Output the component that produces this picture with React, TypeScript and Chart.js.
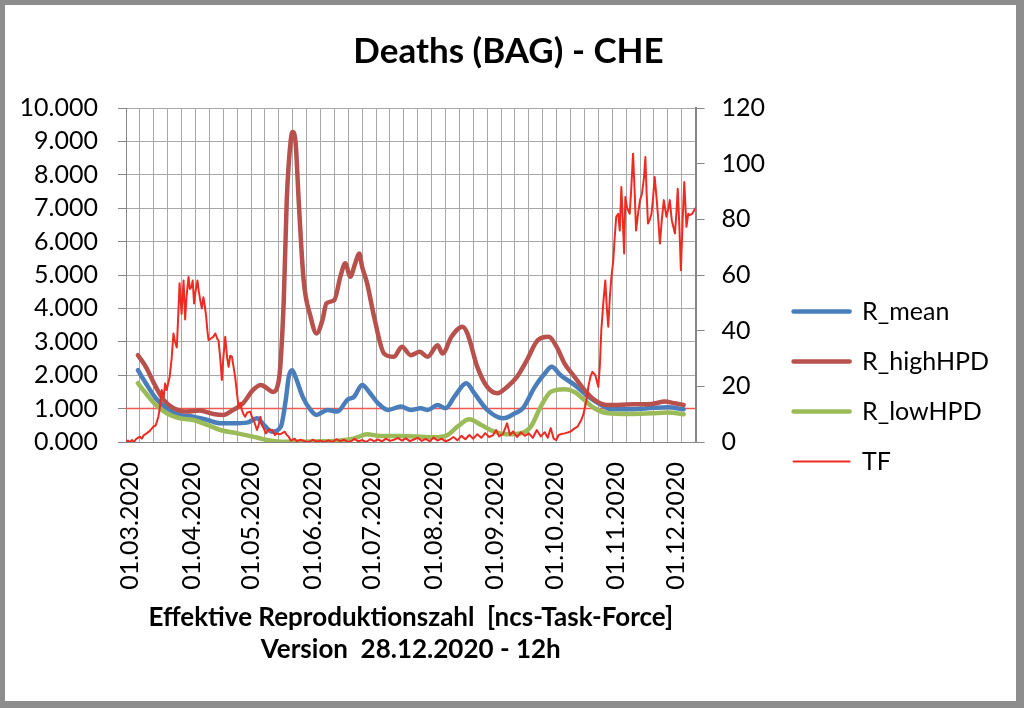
import React, { useEffect, useRef } from 'react';
import { Chart, registerables } from 'chart.js';

Chart.register(...registerables);

// ---------- text ----------
const TITLE = 'Deaths (BAG) - CHE';
const X_TITLE = ['Effektive Reproduktionszahl  [ncs-Task-Force]', 'Version  28.12.2020 - 12h'];

// ---------- x axis (days since 01.03.2020) ----------
const X_MIN = -2;
const X_MAX = 285;
const GRID_STEP_DAYS = 7;
const MONTH_DAYS = [0, 31, 61, 92, 122, 153, 184, 214, 245, 275];
const MONTH_LABELS = [
  '01.03.2020', '01.04.2020', '01.05.2020', '01.06.2020', '01.07.2020',
  '01.08.2020', '01.09.2020', '01.10.2020', '01.11.2020', '01.12.2020',
];

// ---------- series ----------
const SERIES_NAMES = ['R_mean', 'R_highHPD', 'R_lowHPD', 'TF'];

const MEAN_DAYS = [4, 8, 13, 18.5, 25, 32, 39, 45.5, 52, 59, 64, 67.5, 71.5, 76, 78.5, 80, 81.7, 83.4, 87, 91, 94, 99.5, 104.5, 109.5, 113, 117, 120.5, 125, 130, 136.5, 141.5, 146.5, 150, 155, 159, 163.5, 169.5, 173.5, 180, 188, 194, 198, 204, 209, 212.5, 217, 224, 231, 237.5, 242.5, 251, 261, 271, 279];
const R_MEAN = [2.15, 1.76, 1.31, 1.01, 0.81, 0.76, 0.66, 0.56, 0.56, 0.58, 0.71, 0.51, 0.31, 0.46, 1.26, 1.95, 2.15, 1.95, 1.36, 0.96, 0.81, 0.96, 0.91, 1.26, 1.36, 1.71, 1.5, 1.16, 0.96, 1.06, 0.96, 1.01, 0.96, 1.11, 1.01, 1.36, 1.76, 1.46, 0.96, 0.71, 0.86, 1.01, 1.65, 2.05, 2.25, 2.0, 1.71, 1.36, 1.11, 0.98, 0.98, 1.01, 1.04, 0.98];

const HIGH_DAYS = [4, 8, 13, 17, 22, 29, 35, 42, 47, 52, 57, 62, 66, 69, 72, 75, 77.5, 79, 81, 82, 83.5, 85, 87.5, 91, 94, 97, 99, 103, 106, 108.5, 111, 113.5, 115.5, 117, 119.5, 123, 128, 133, 137, 141.5, 146, 150, 155, 157.5, 162, 167.5, 170, 175, 180, 185, 190, 195, 200, 205.5, 211, 215, 219, 224, 229, 234, 240, 246, 254, 263, 269.5, 274.5, 279];
const R_HIGH = [2.6, 2.25, 1.65, 1.26, 1.01, 0.91, 0.94, 0.84, 0.81, 0.96, 1.16, 1.56, 1.71, 1.61, 1.5, 1.85, 4.25, 7.24, 9.03, 9.28, 8.93, 7.24, 4.85, 3.75, 3.25, 3.65, 4.15, 4.25, 4.95, 5.35, 4.95, 5.35, 5.64, 5.24, 4.75, 3.75, 2.65, 2.55, 2.85, 2.6, 2.7, 2.55, 2.9, 2.65, 3.15, 3.45, 3.25, 2.25, 1.65, 1.46, 1.65, 1.95, 2.45, 3.05, 3.15, 2.85, 2.35, 1.95, 1.56, 1.26, 1.11, 1.11, 1.13, 1.14, 1.21, 1.16, 1.11];

const LOW_DAYS = [4, 8, 13, 18.5, 25, 32, 39, 45.5, 54, 62, 69, 76, 85, 95, 105, 113, 119.5, 126, 136, 146.5, 153, 160, 165, 171, 177, 183.5, 190, 197, 202, 207, 212, 219, 224, 229, 234, 241, 251, 263, 271, 279];
const R_LOW = [1.76, 1.46, 1.11, 0.86, 0.71, 0.66, 0.51, 0.36, 0.26, 0.16, 0.06, 0.01, 0.01, 0.02, 0.04, 0.11, 0.23, 0.18, 0.18, 0.16, 0.14, 0.21, 0.46, 0.68, 0.51, 0.31, 0.23, 0.26, 0.46, 1.06, 1.5, 1.58, 1.5, 1.26, 1.01, 0.86, 0.84, 0.86, 0.88, 0.83];

const TF_DAYS = [-2, -1, 0, 1, 2, 3, 5, 6, 7, 8.4, 10, 11.8, 13, 14.3, 15, 16, 17, 17.7, 18.5, 20, 21, 21.9, 22.7, 23.6, 24.3, 25, 26, 27, 27.8, 28.5, 29.5, 30.2, 31, 31.6, 32.3, 33, 34, 34.7, 35.4, 36.2, 37, 37.7, 38.4, 39, 39.6, 40.5, 42, 43, 44, 44.6, 45.5, 46.3, 47, 48, 49, 49.7, 50.5, 51.4, 52.2, 53, 54, 54.7, 55.5, 56.4, 57.2, 58, 59, 60.6, 61.5, 62.3, 63.2, 64, 65, 65.7, 66.5, 67.4, 68.5, 70, 71.7, 73, 74, 75.5, 76.5, 78, 79, 80, 81, 83, 84, 86, 88, 90, 92, 94, 96, 98, 100, 102, 104, 106, 108, 110, 112, 113, 115, 117, 119, 121, 123, 125, 127, 129, 131, 133, 135, 137, 139, 141, 143, 145, 147, 149, 151, 153, 155, 157, 159, 161, 163, 165, 167, 169, 171, 173, 175, 177, 179, 181, 183, 184.5, 186, 188, 190, 191.5, 193, 195, 197, 199, 201, 203, 205, 207, 209, 210.5, 212, 213.5, 214.8, 216, 218, 219, 221, 222.5, 224, 225.5, 227.4, 228.5, 230, 231, 232, 233, 234.5, 236, 236.8, 237.5, 238.5, 239.5, 240.3, 241, 241.8, 242.6, 243.5, 244.3, 245, 246, 246.8, 247.6, 248.3, 249, 249.6, 250.5, 251.8, 252.5, 253.5, 254.3, 255, 256, 257, 258, 259, 259.7, 260.3, 261, 262, 262.8, 263.6, 264.4, 265.3, 266.2, 267, 268, 269, 270.3, 271.3, 272, 273, 274.6, 275.5, 276, 276.8, 277.6, 278.5, 279.3, 280.4, 281.3, 282, 283.3, 284.3, 285];
const TF = [0, 0.5, 0, 0.7, 0, 1, 1.9, 1.2, 2.5, 3.1, 4, 5.5, 6, 9.1, 12, 18.7, 16, 21, 18.7, 23.4, 30, 39, 36, 34, 45, 57, 46, 58, 44, 52, 59.3, 55, 55.7, 58, 49.8, 54, 58, 54, 51, 48, 52, 49, 45, 40, 36.6, 37, 37.8, 39, 37, 36.6, 30, 22.3, 30, 37.8, 30, 27, 31, 30.6, 27, 23.4, 17, 12.7, 14, 11.5, 10, 9.1, 10.5, 10.9, 9, 7.9, 6, 4.3, 6.5, 9.1, 6, 4.9, 3.1, 4.5, 4.3, 2.5, 3.1, 2.8, 3.1, 3.7, 2.5, 1.9, 0.5, 1.2, 0.3, 0.8, 0.3, 0, 0.8, 0.2, 0.5, 0, 0.6, 0, 1, 0.3, 0.8, 0, 0.5, 1.2, 0.2, 0.7, 0, 1, 0.3, 0.9, 0.2, 1.2, 0.4, 0.8, 1.5, 0.5, 1.3, 0.3, 0.9, 1.5, 0.4, 1.1, 0.3, 1.6, 0.5, 1.2, 0.2, 0.8, 1.8, 0.6, 2.2, 1, 2.5, 1.2, 2.8, 1.5, 3.2, 1.8, 2.5, 4.3, 2, 3, 6.7, 2.5, 3.8, 1.8, 3.5, 2.2, 3.1, 1.5, 4.3, 2, 3.5, 1.5, 5, 1.2, 0.7, 2.5, 3, 3.1, 3.5, 4, 4.9, 5.5, 7.9, 10, 15, 20, 23.4, 25.2, 24, 19.8, 28, 40.2, 50, 58, 48, 41.4, 52, 59.3, 65, 74, 80.9, 82, 76, 91.6, 80, 67.7, 88, 84, 82, 90, 103.6, 90, 76, 82, 86.9, 89.3, 95, 102.4, 90, 78.5, 80, 82, 88, 95.2, 88, 80, 71.3, 80, 86.9, 80.9, 84, 86.9, 79.7, 74.9, 84, 91, 78, 61.7, 80, 93.4, 77.3, 82, 81.5, 82, 83.3, 84];

const REF_LEVEL_DAYS = [X_MIN, X_MAX];
const REF_LEVEL = [1, 1];

// ---------- styles ----------
const COLORS = ['#4a7ebb', '#b8504b', '#9bbb59', '#ee2b22'];
const REF_COLOR = '#f2584f';
const GRID = '#a8a8a8';
const AXIS = '#868686';
const FONT = 'Lato';

const pts = (xs: number[], ys: number[]) => xs.map((x, i) => ({ x, y: ys[i] }));

const framePlugin = {
  id: 'frame',
  beforeDraw(chart: any) {
    const { ctx, width, height } = chart;
    ctx.save();
    ctx.fillStyle = '#8d8d8d';
    ctx.fillRect(0, 0, width, height);
    ctx.fillStyle = '#ffffff';
    ctx.fillRect(5, 5, width - 13, height - 12);
    ctx.restore();
  },
};

export default function App() {
  const ref = useRef<HTMLCanvasElement | null>(null);

  useEffect(() => {
    if (!ref.current) return;
    const lineDs = (label: string, xs: number[], ys: number[], color: string, width: number, order: number, smooth: boolean, axis: string) => ({
      label,
      data: pts(xs, ys),
      borderColor: color,
      backgroundColor: color,
      borderWidth: width,
      pointBorderWidth: width,
      pointBorderColor: color,
      pointRadius: 0,
      pointHoverRadius: 0,
      fill: false,
      order,
      yAxisID: axis,
      borderJoinStyle: 'round' as const,
      borderCapStyle: 'round' as const,
      cubicInterpolationMode: smooth ? ('monotone' as const) : ('default' as const),
      tension: 0,
    });

    const chart = new Chart(ref.current, {
      type: 'line',
      data: {
        datasets: [
          lineDs(SERIES_NAMES[0], MEAN_DAYS, R_MEAN, COLORS[0], 4.5, 3, true, 'y'),
          lineDs(SERIES_NAMES[1], HIGH_DAYS, R_HIGH, COLORS[1], 4.5, 2, true, 'y'),
          lineDs(SERIES_NAMES[2], LOW_DAYS, R_LOW, COLORS[2], 4.5, 1, true, 'y'),
          lineDs(SERIES_NAMES[3], TF_DAYS, TF, COLORS[3], 2, 0, false, 'y1'),
          lineDs('ref', REF_LEVEL_DAYS, REF_LEVEL, REF_COLOR, 1.5, 4, false, 'y'),
        ],
      },
      options: {
        responsive: false,
        animation: false,
        devicePixelRatio: 1,
        events: [],
        layout: { padding: { left: 18, right: 25, top: 6, bottom: 42 } },
        scales: {
          x: {
            type: 'linear',
            min: X_MIN,
            max: X_MAX,
            afterBuildTicks: (scale: any) => {
              const vals = new Set<number>();
              for (let d = X_MIN; d <= X_MAX; d += GRID_STEP_DAYS) vals.add(d);
              MONTH_DAYS.forEach((d) => vals.add(d));
              scale.ticks = Array.from(vals).sort((a, b) => a - b).map((v) => ({ value: v }));
            },
            afterFit: (scale: any) => { scale.height = 224; },
            ticks: {
              autoSkip: false,
              minRotation: 90,
              maxRotation: 90,
              padding: 20,
              color: '#000',
              font: { family: FONT, size: 25 },
              callback: (v: any) => {
                const i = MONTH_DAYS.indexOf(Number(v));
                return i >= 0 ? MONTH_LABELS[i] : '';
              },
            },
            grid: {
              drawTicks: false,
              color: (c: any) => (((c.tick?.value ?? 0) - X_MIN) % GRID_STEP_DAYS === 0 ? GRID : 'rgba(0,0,0,0)'),
              lineWidth: 1,
            },
            border: { color: AXIS, width: 1 },
            title: {
              display: true,
              text: X_TITLE,
              color: '#000',
              font: { family: FONT, size: 26, weight: 'bold', lineHeight: 1.23 },
              padding: { top: 0, bottom: 0 },
            },
          },
          y: {
            position: 'left',
            min: 0,
            max: 10,
            afterFit: (scale: any) => { scale.width = 108; },
            ticks: {
              stepSize: 1,
              padding: 20,
              color: '#000',
              font: { family: FONT, size: 25 },
              callback: (v: any) => Number(v).toFixed(3),
            },
            grid: { color: GRID, lineWidth: 1, tickLength: 8, tickColor: AXIS },
            border: { color: AXIS, width: 1 },
          },
          y1: {
            position: 'right',
            min: 0,
            max: 120,
            afterFit: (scale: any) => { scale.width = 73; },
            ticks: {
              stepSize: 20,
              padding: 17,
              color: '#000',
              font: { family: FONT, size: 25 },
            },
            grid: { drawOnChartArea: false, tickLength: 9, tickColor: AXIS },
            border: { color: AXIS, width: 2 },
          },
        },
        plugins: {
          title: {
            display: true,
            text: TITLE,
            color: '#000',
            font: { family: FONT, size: 35, weight: 'bold', lineHeight: 1.2 },
            padding: { top: 25, bottom: 35 },
          },
          legend: {
            position: 'right',
            align: 'start',
            maxWidth: 240,
            title: { display: true, text: ' ', font: { size: 10, lineHeight: 1.2 }, padding: 128 },
            labels: {
              usePointStyle: true,
              pointStyle: 'line',
              pointStyleWidth: 56,
              padding: 25,
              color: '#000',
              font: { family: FONT, size: 25 },
              filter: (item: any) => item.datasetIndex < 4,
              sort: (a: any, b: any) => a.datasetIndex - b.datasetIndex,
              generateLabels: (c: any) =>
                Chart.defaults.plugins.legend.labels.generateLabels(c).map((l: any) => ({ ...l, lineCap: 'round' })),
            },
          },
          tooltip: { enabled: false },
        },
      },
      plugins: [framePlugin],
    } as any);
    return () => chart.destroy();
  }, []);

  return (
    <div style={{ position: 'absolute', left: 0, top: 0, width: 1024, height: 708 }}>
      <canvas ref={ref} width={1024} height={708} style={{ display: 'block', width: 1024, height: 708 }} />
    </div>
  );
}
